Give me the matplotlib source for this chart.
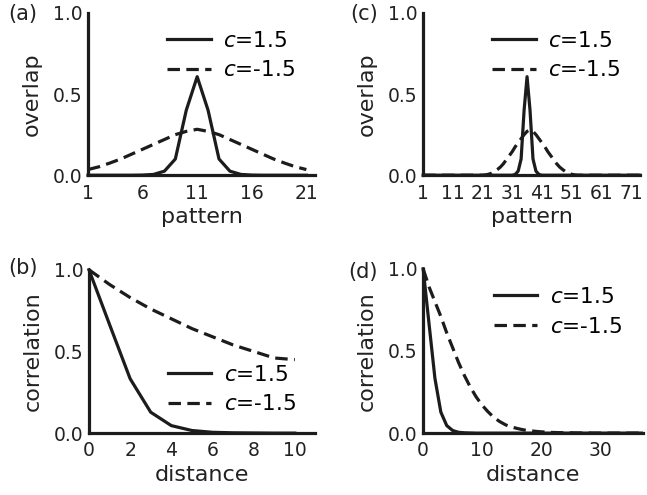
import matplotlib
matplotlib.use("Agg")
import matplotlib.pyplot as plt
import numpy as np

# (a) overlap vs pattern, 21 patterns
pattern_a = list(range(1, 22))
overlap_a_pos = [0.0, 0.0, 0.0, 0.0, 0.0, 0.001, 0.005, 0.025, 0.10, 0.40, 0.607,
                 0.40, 0.10, 0.025, 0.005, 0.001, 0.0, 0.0, 0.0, 0.0, 0.0]
overlap_a_neg = [0.035, 0.052, 0.075, 0.10, 0.13, 0.16, 0.19, 0.22, 0.25, 0.27, 0.283,
                 0.27, 0.25, 0.22, 0.19, 0.16, 0.13, 0.10, 0.075, 0.052, 0.035]

# (c) overlap vs pattern, 71 patterns (line runs on to the axis end)
pattern_c = list(range(1, 75))
overlap_c_pos = ([0.0] * 31 + [0.005, 0.025, 0.10, 0.40, 0.607, 0.40, 0.10, 0.025, 0.005]
                 + [0.0] * 34)
overlap_c_neg = ([0.0] * 21 + [0.002, 0.006, 0.012, 0.022, 0.035, 0.05, 0.07, 0.095, 0.12,
                               0.145, 0.175, 0.20, 0.225, 0.25, 0.27, 0.28, 0.27, 0.25,
                               0.225, 0.20, 0.175, 0.145, 0.12, 0.095, 0.07, 0.05, 0.035,
                               0.022, 0.012, 0.006, 0.002]
                 + [0.0] * 22)

# (b) correlation vs distance
dist_b = list(range(0, 11))
corr_b_pos = [1.0, 0.665, 0.333, 0.128, 0.046, 0.016, 0.005, 0.002, 0.001, 0.0, 0.0]
corr_b_neg = [1.0, 0.91, 0.83, 0.76, 0.70, 0.64, 0.59, 0.54, 0.50, 0.46, 0.45]

# (d) correlation vs distance
dist_d = list(range(0, 38))
corr_d_pos = [1.0, 0.665, 0.333, 0.128, 0.046, 0.016, 0.005, 0.002, 0.001] + [0.0] * 29
corr_d_neg = [1.0, 0.89, 0.80, 0.71, 0.61, 0.52, 0.43, 0.35, 0.28, 0.22, 0.17, 0.13,
              0.095, 0.07, 0.05, 0.037, 0.028, 0.02, 0.015, 0.011, 0.008, 0.006, 0.004,
              0.003, 0.002, 0.002, 0.001, 0.001, 0.001, 0.0, 0.0, 0.0, 0.0, 0.0, 0.0,
              0.0, 0.0, 0.0]

labels = ['$c$=1.5', '$c$=-1.5']
col = '#1c1c1c'
lw = 2.3
dash = (0, (3.9, 2.0))

fig = plt.figure(figsize=(6.47, 4.95), dpi=100)


def setup(ax, xlim, xticks, xlabel, ylabel):
    ax.set_xlim(xlim)
    ax.set_ylim(0, 1)
    ax.set_xticks(xticks)
    ax.set_yticks([0.0, 0.5, 1.0])
    ax.set_yticklabels(['0.0', '0.5', '1.0'])
    ax.spines['top'].set_visible(False)
    ax.spines['right'].set_visible(False)
    for s in ['left', 'bottom']:
        ax.spines[s].set_linewidth(2.3)
        ax.spines[s].set_color(col)
    ax.tick_params(length=0, labelsize=13.5, colors='#222222')
    ax.tick_params(axis='x', pad=6)
    ax.tick_params(axis='y', pad=4)
    ax.set_xlabel(xlabel, fontsize=16, labelpad=3, color='#222222')
    ax.set_ylabel(ylabel, fontsize=16, labelpad=8, color='#222222')


def leg(ax, anchor):
    ax.legend(labels, loc='upper left', bbox_to_anchor=anchor, frameon=False,
              fontsize=15.5, handlelength=2.0, handletextpad=0.6, labelspacing=0.45,
              borderpad=0, borderaxespad=0)


ax_a = fig.add_axes([0.136, 0.646, 0.351, 0.328])
ax_a.plot(pattern_a, overlap_a_pos, color=col, lw=lw, clip_on=False)
ax_a.plot(pattern_a, overlap_a_neg, color=col, lw=lw, linestyle=dash, clip_on=False)
setup(ax_a, (1, 21.8), [1, 6, 11, 16, 21], 'pattern', 'overlap')
leg(ax_a, (0.35, 0.89))

ax_c = fig.add_axes([0.654, 0.646, 0.335, 0.328])
ax_c.plot(pattern_c, overlap_c_pos, color=col, lw=lw, clip_on=False)
ax_c.plot(pattern_c, overlap_c_neg, color=col, lw=lw, linestyle=dash, clip_on=False)
setup(ax_c, (1, 74), [1, 11, 21, 31, 41, 51, 61, 71], 'pattern', 'overlap')
leg(ax_c, (0.32, 0.89))

ax_b = fig.add_axes([0.1375, 0.125, 0.35, 0.33])
ax_b.plot(dist_b, corr_b_pos, color=col, lw=lw, clip_on=False)
ax_b.plot(dist_b, corr_b_neg, color=col, lw=lw, linestyle=dash, clip_on=False)
setup(ax_b, (0, 11), [0, 2, 4, 6, 8, 10], 'distance', 'correlation')
leg(ax_b, (0.35, 0.42))

ax_d = fig.add_axes([0.654, 0.125, 0.34, 0.332])
ax_d.plot(dist_d, corr_d_pos, color=col, lw=lw, clip_on=False)
ax_d.plot(dist_d, corr_d_neg, color=col, lw=lw, linestyle=dash, clip_on=False)
setup(ax_d, (0, 37.3), [0, 10, 20, 30], 'distance', 'correlation')
leg(ax_d, (0.32, 0.89))

for lab, x, y in [('(a)', 0.012, 0.972), ('(b)', 0.012, 0.459),
                  ('(c)', 0.541, 0.972), ('(d)', 0.538, 0.451)]:
    fig.text(x, y, lab, fontsize=15, va='center', ha='left', color='#222222')

plt.savefig('out.png', dpi=100)
